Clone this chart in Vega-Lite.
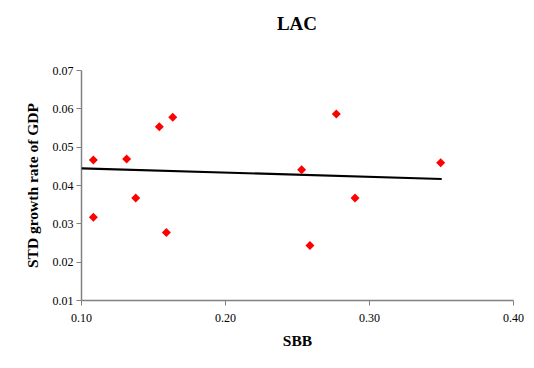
{
  "$schema": "https://vega.github.io/schema/vega-lite/v6.json",
  "width": 432,
  "height": 230,
  "autosize": {"type": "none"},
  "padding": {"left": 81, "top": 70, "right": 21, "bottom": 68},
  "background": "white",
  "title": {
    "text": "LAC",
    "font": "Liberation Serif",
    "fontSize": 19,
    "fontWeight": "bold",
    "color": "black",
    "anchor": "middle",
    "frame": "group",
    "baseline": "alphabetic",
    "offset": 15
  },
  "datasets": {
    "pts": [
      {"SBB": 0.1086, "STD": 0.0465},
      {"SBB": 0.1086, "STD": 0.0316},
      {"SBB": 0.1317, "STD": 0.0468},
      {"SBB": 0.138, "STD": 0.0366},
      {"SBB": 0.1544, "STD": 0.0552},
      {"SBB": 0.1637, "STD": 0.0577},
      {"SBB": 0.1593, "STD": 0.0276},
      {"SBB": 0.2532, "STD": 0.044},
      {"SBB": 0.259, "STD": 0.0242},
      {"SBB": 0.2773, "STD": 0.0585},
      {"SBB": 0.2903, "STD": 0.0366},
      {"SBB": 0.3498, "STD": 0.0458}
    ],
    "trend": [
      {"SBB": 0.1005, "STD": 0.04435},
      {"SBB": 0.3505, "STD": 0.04156}
    ]
  },
  "encoding": {
    "x": {
      "field": "SBB",
      "type": "quantitative",
      "scale": {"domain": [0.1, 0.4], "nice": false, "zero": false},
      "axis": {
        "title": "SBB",
        "values": [0.1, 0.2, 0.3, 0.4],
        "format": ".2f",
        "grid": false,
        "labelFlush": false,
        "labelOverlap": false,
        "labelFontSize": 12,
        "labelPadding": 7,
        "titlePadding": 10
      }
    },
    "y": {
      "field": "STD",
      "type": "quantitative",
      "scale": {"domain": [0.01, 0.07], "nice": false, "zero": false},
      "axis": {
        "title": "STD growth rate of GDP",
        "values": [0.01, 0.02, 0.03, 0.04, 0.05, 0.06, 0.07],
        "format": ".2f",
        "grid": false,
        "labelFlush": false,
        "labelOverlap": false,
        "labelFontSize": 12,
        "labelPadding": 3,
        "titlePadding": 12
      }
    }
  },
  "layer": [
    {
      "data": {"name": "trend"},
      "mark": {"type": "line", "color": "black", "strokeWidth": 2.2}
    },
    {
      "data": {"name": "pts"},
      "mark": {"type": "point", "shape": "diamond", "filled": true, "color": "#FF0000", "size": 81, "opacity": 1}
    }
  ],
  "config": {
    "view": {"stroke": null},
    "axis": {
      "domainColor": "#808080",
      "domainWidth": 1.5,
      "tickColor": "#808080",
      "tickWidth": 1,
      "tickSize": 5,
      "labelFont": "Liberation Serif",
      "labelFontSize": 12,
      "labelColor": "black",
      "titleFont": "Liberation Serif",
      "titleFontSize": 15.5,
      "titleFontWeight": "bold",
      "titleColor": "black"
    }
  }
}
